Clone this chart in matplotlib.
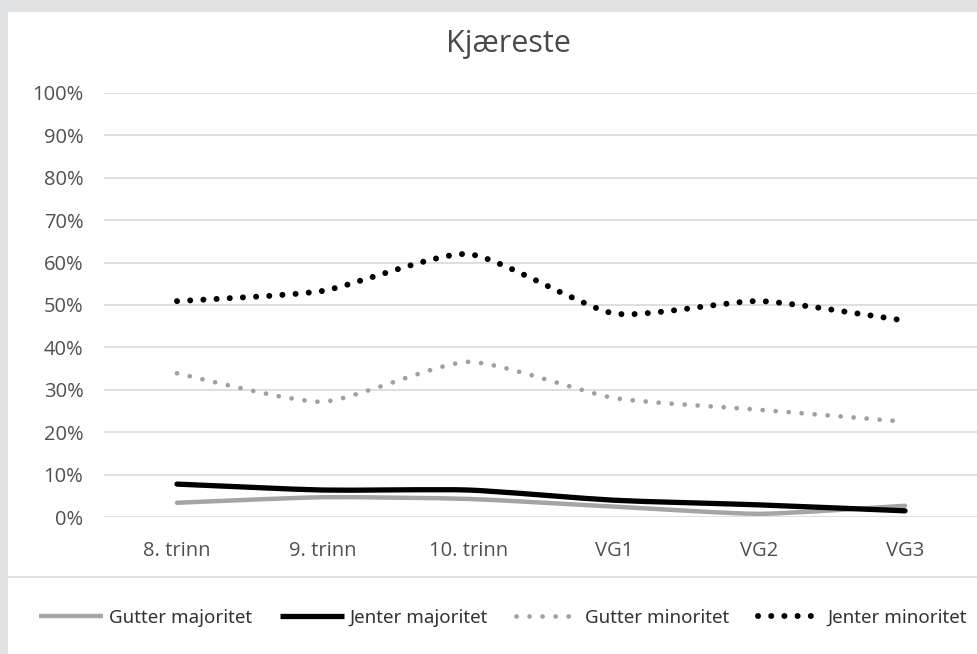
import matplotlib
matplotlib.use("Agg")
import matplotlib.pyplot as plt
from matplotlib.path import Path
from matplotlib.patches import PathPatch, Rectangle
from matplotlib.lines import Line2D
from matplotlib.ticker import PercentFormatter
import numpy as np

categories = ["8. trinn", "9. trinn", "10. trinn", "VG1", "VG2", "VG3"]
gutter_majoritet = [3.4, 4.7, 4.3, 2.5, 0.8, 2.7]
jenter_majoritet = [7.8, 6.4, 6.4, 4.0, 2.9, 1.5]
gutter_minoritet = [33.9, 27.2, 36.6, 28.1, 25.3, 22.5]
jenter_minoritet = [50.9, 53.3, 62.0, 48.0, 50.9, 46.3]
y_ticks = [0, 10, 20, 30, 40, 50, 60, 70, 80, 90, 100]

W, H = 977, 654


def smooth_path(xs, ys, k=10.0):
    # bezier through the points, a milder version of Excel's smoothed lines
    pts = np.column_stack([xs, ys]).astype(float)
    verts = [pts[0]]
    codes = [Path.MOVETO]
    n = len(pts)
    for i in range(n - 1):
        p0 = pts[i - 1] if i > 0 else pts[i]
        p1 = pts[i]
        p2 = pts[i + 1]
        p3 = pts[i + 2] if i + 2 < n else pts[i + 1]
        c1 = p1 + (p2 - p0) / k
        c2 = p2 - (p3 - p1) / k
        verts += [c1, c2, p2]
        codes += [Path.CURVE4] * 3
    return Path(verts, codes)


series = [
    ("Gutter majoritet", gutter_majoritet, dict(color="#a5a5a5", lw=3.2, ls="-")),
    ("Jenter majoritet", jenter_majoritet, dict(color="#000000", lw=3.8, ls="-")),
    ("Gutter minoritet", gutter_minoritet, dict(color="#a0a0a0", lw=3.4, ls=(0, (0.01, 2.75)))),
    ("Jenter minoritet", jenter_minoritet, dict(color="#000000", lw=4.3, ls=(0, (0.01, 2.2)))),
]

fig = plt.figure(figsize=(W / 100, H / 100), dpi=100)
fig.patch.set_facecolor("#e1e2e4")
bg = Rectangle((8 / W, 0), 1, 1 - 12 / H, transform=fig.transFigure,
               facecolor="white", edgecolor="none", zorder=-10)
fig.add_artist(bg)
fig.add_artist(Line2D([8 / W, 1], [1 - 577 / H] * 2, color="#dcdcdc", lw=1.2,
                      transform=fig.transFigure, zorder=-5))

ax = fig.add_axes([104.2 / W, 1 - 517.2 / H, 873.6 / W, 424.5 / H])
ax.set_facecolor("none")
ax.set_xlim(-0.5, 5.5)
ax.set_ylim(0, 100)
for s in ax.spines.values():
    s.set_visible(False)

ax.set_yticks(y_ticks)
ax.yaxis.set_major_formatter(PercentFormatter(decimals=0))
ax.set_xticks(range(len(categories)))
ax.set_xticklabels(categories)
ax.tick_params(length=0, labelsize=14.5, labelcolor="#505050")
ax.tick_params(axis="y", pad=15)
ax.tick_params(axis="x", pad=17)
for lab in ax.get_xticklabels() + ax.get_yticklabels():
    lab.set_fontfamily("Open Sans")
ax.grid(axis="y", color="#d9d9d9", lw=1.2)
ax.set_axisbelow(True)

x = np.arange(len(categories))
handles = []
for name, vals, st in series:
    patch = PathPatch(smooth_path(x, vals), fill=False, edgecolor=st["color"],
                      lw=st["lw"], linestyle=st["ls"], capstyle="round",
                      joinstyle="round", zorder=3)
    ax.add_patch(patch)
    handles.append(Line2D([], [], color=st["color"], lw=st["lw"], linestyle=st["ls"],
                          solid_capstyle="butt", dash_capstyle="round", label=name))

fig.text(508 / W, 1 - 44 / H, "Kjæreste", ha="center", va="center", fontsize=22,
         color="#4a4a4a", fontfamily="Open Sans")

leg = fig.legend(handles=handles, loc="center", bbox_to_anchor=(503 / W, 1 - 618 / H),
                 ncol=4, frameon=False, handlelength=3.4, handletextpad=0.3,
                 columnspacing=1.5,
                 prop={"family": "Noto Sans", "size": 13.5})
for t in leg.get_texts():
    t.set_color("#333333")

fig.savefig("out.png", dpi=100, facecolor=fig.get_facecolor())
